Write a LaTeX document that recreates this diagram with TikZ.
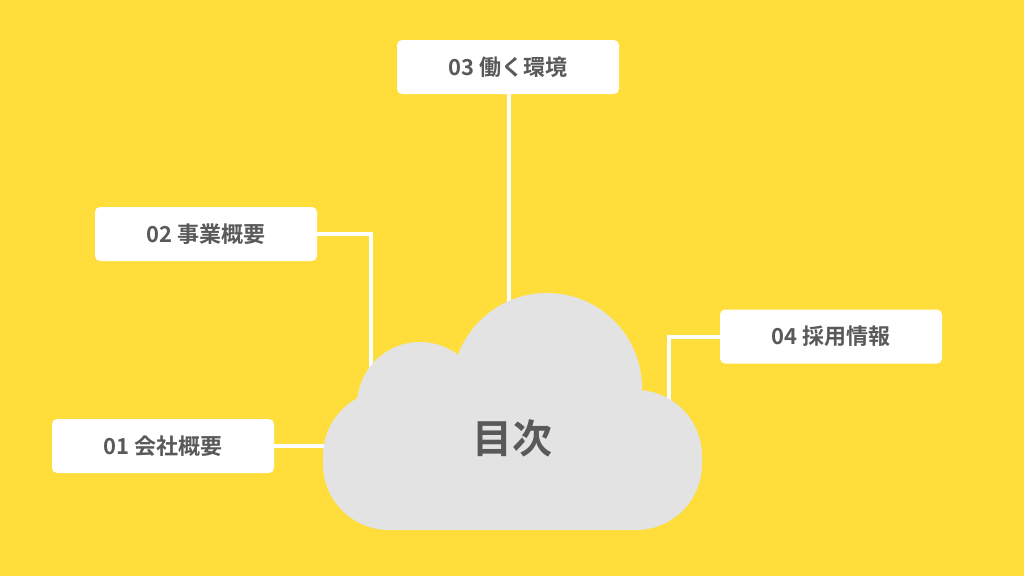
\documentclass[tikz,border=0pt]{standalone}
\usepackage{fontspec}
\newfontfamily\cjk{Noto Sans CJK JP}[BoldFont={* Bold}]
\definecolor{bg}{HTML}{FFDD3A}
\definecolor{cloud}{HTML}{E3E3E3}
\definecolor{txt}{HTML}{595959}
\begin{document}
\begin{tikzpicture}[x=1pt,y=-1pt,
  lab/.style={fill=white,rounded corners=5pt,minimum width=222pt,minimum height=54pt,inner sep=0pt,font=\cjk\bfseries\fontsize{22}{26}\selectfont,text=txt},
  conn/.style={draw=white,line width=4pt}]
\fill[bg] (0,0) rectangle (1024,576);
\useasboundingbox (0,0) rectangle (1024,576);
\node[lab] (b3) at (508,67) {03\ 働く環境};
\node[lab] (b2) at (206,234) {02\ 事業概要};
\node[lab] (b4) at (831,336.5) {04\ 採用情報};
\node[lab] (b1) at (163,446) {01\ 会社概要};
\coordinate (c3) at (509,305);
\coordinate (c2) at (371,395);
\coordinate (c4) at (669,410);
\coordinate (c1) at (330,446);
\draw[conn] (b3.south -| c3) -- (c3);
\draw[conn] (b2.east) -| (c2);
\draw[conn] (b4.west) -| (c4);
\draw[conn] (b1.east) -- (c1);
\fill[cloud] (547,388) circle (95);
\fill[cloud] (420,405) circle (63);
\fill[cloud,rounded corners=66pt] (323,390) rectangle (702,530);
\node[font=\cjk\bfseries\fontsize{40}{46}\selectfont,text=txt] (t) at (512,438) {目次};
\end{tikzpicture}
\end{document}
